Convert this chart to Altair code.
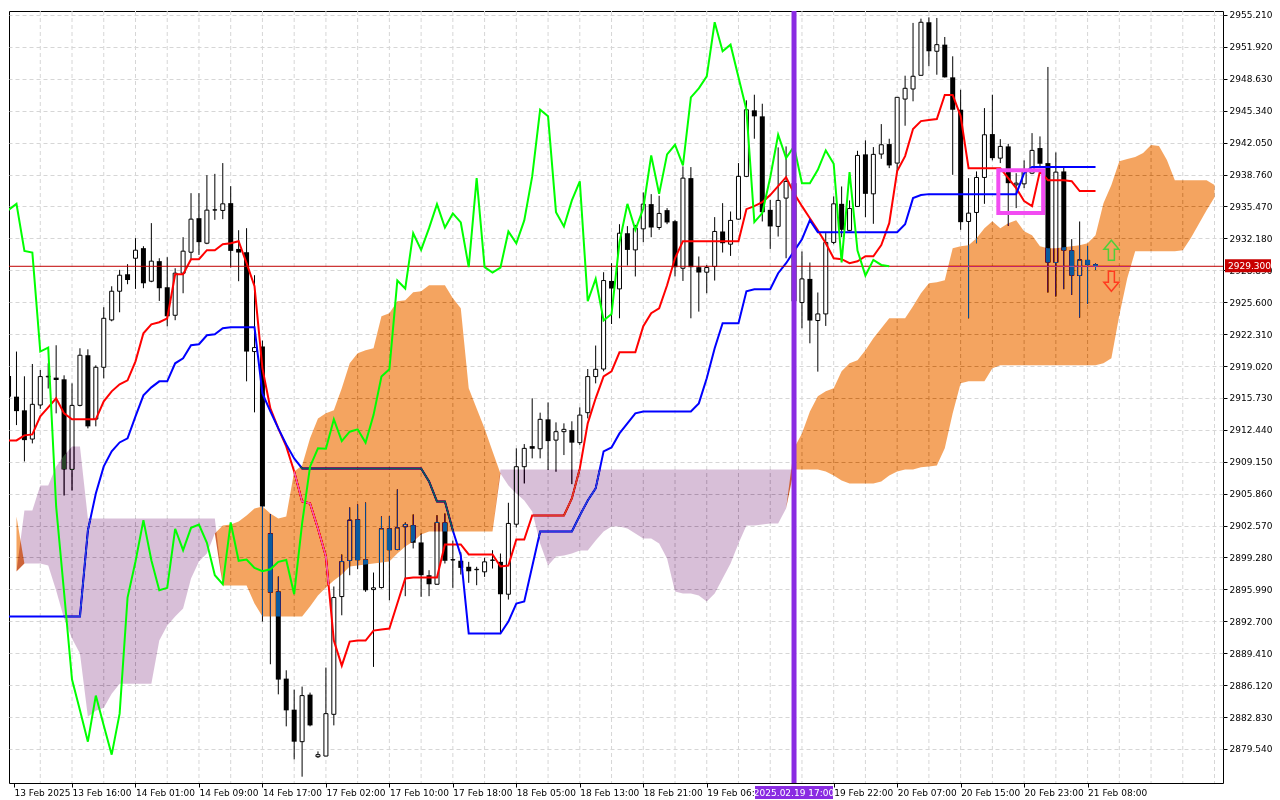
import json
import pandas as pd
import altair as alt

# ---------------- data ----------------
opens = [2917.99, 2915.86, 2914.45, 2911.49, 2915.00, 2917.90, 2917.82, 2917.65, 2908.36, 2914.96,
         2920.13, 2913.55, 2918.89, 2923.77, 2926.73, 2928.48, 2930.13, 2931.17, 2927.76, 2929.83,
         2927.14, 2924.25, 2928.59, 2930.75, 2934.26, 2931.68, 2935.10, 2935.06, 2935.81, 2931.09,
         2930.75, 2920.51, 2921.02, 2901.76, 2895.77, 2886.79, 2883.59, 2880.29, 2885.14, 2878.74,
         2878.81, 2883.11, 2895.25, 2898.97, 2903.20, 2899.07, 2895.97, 2896.18, 2902.27, 2900.10,
         2902.45, 2902.61, 2900.83, 2897.45, 2896.52, 2902.89, 2899.02, 2898.94, 2898.32, 2898.02,
         2897.80, 2898.98, 2898.83, 2895.49, 2902.71, 2908.64, 2910.76, 2910.49, 2913.52, 2911.38,
         2912.25, 2912.41, 2911.12, 2914.21, 2917.93, 2918.71, 2927.79, 2926.97, 2932.71, 2930.99,
         2933.16, 2935.71, 2933.30, 2935.09, 2933.95, 2929.10, 2938.39, 2929.21, 2928.69, 2929.28,
         2932.89, 2931.58, 2934.16, 2938.57, 2945.38, 2944.76, 2935.12, 2933.41, 2936.33, 2937.87,
         2925.56, 2928.00, 2923.71, 2924.39, 2931.76, 2935.74, 2933.00, 2935.47, 2940.84, 2936.77,
         2940.87, 2941.90, 2939.94, 2946.54, 2947.58, 2948.99, 2954.46, 2951.47, 2952.15, 2948.78,
         2945.44, 2933.92, 2934.85, 2938.46, 2942.93, 2940.45, 2941.66, 2937.70, 2937.80, 2938.90,
         2941.49, 2939.94, 2929.69, 2939.08, 2930.93, 2928.35, 2929.96, 2929.52]
highs = [2918.78, 2920.51, 2917.96, 2919.23, 2918.61, 2919.30, 2921.16, 2918.06, 2917.23, 2920.85,
         2920.74, 2919.09, 2925.08, 2927.24, 2928.93, 2929.52, 2932.20, 2931.37, 2933.75, 2930.13,
         2930.24, 2929.10, 2932.30, 2936.84, 2936.84, 2938.70, 2938.83, 2939.94, 2937.56, 2933.02,
         2933.23, 2928.38, 2921.64, 2903.75, 2897.32, 2887.65, 2885.66, 2885.97, 2885.35, 2879.29,
         2887.93, 2896.29, 2899.59, 2904.44, 2904.75, 2904.95, 2897.73, 2903.51, 2903.54, 2906.30,
         2902.89, 2903.72, 2901.76, 2897.97, 2903.64, 2903.82, 2901.03, 2899.82, 2898.83, 2898.32,
         2899.25, 2900.03, 2899.69, 2904.92, 2910.53, 2910.97, 2915.69, 2914.21, 2915.27, 2913.21,
         2913.11, 2913.32, 2914.76, 2918.71, 2921.13, 2928.69, 2929.62, 2933.64, 2933.44, 2933.57,
         2936.92, 2936.74, 2936.57, 2935.30, 2934.09, 2939.60, 2939.53, 2930.31, 2929.44, 2934.37,
         2935.81, 2934.95, 2939.94, 2946.41, 2946.99, 2946.06, 2936.15, 2941.56, 2941.66, 2938.39,
         2930.83, 2929.69, 2926.60, 2932.72, 2936.50, 2937.53, 2936.09, 2941.21, 2942.28, 2941.59,
         2943.96, 2942.45, 2946.75, 2948.95, 2954.39, 2954.83, 2954.97, 2954.90, 2952.94, 2950.95,
         2947.50, 2938.39, 2939.08, 2945.61, 2946.99, 2942.41, 2941.93, 2938.90, 2940.22, 2943.03,
         2942.69, 2949.85, 2941.04, 2939.60, 2932.10, 2933.92, 2931.40, 2929.62]
lows = [2915.17, 2912.93, 2909.18, 2911.04, 2914.60, 2916.70, 2914.14, 2905.67, 2906.19, 2914.86,
        2912.59, 2912.80, 2917.75, 2923.63, 2924.56, 2927.45, 2926.97, 2927.04, 2927.66, 2925.73,
        2923.12, 2923.74, 2926.52, 2929.93, 2930.47, 2931.58, 2934.09, 2934.16, 2929.17, 2927.76,
        2917.44, 2914.24, 2892.67, 2888.27, 2885.17, 2881.87, 2878.46, 2876.68, 2881.87, 2878.61,
        2878.79, 2881.97, 2893.32, 2897.45, 2898.07, 2895.74, 2888.00, 2896.08, 2894.87, 2900.03,
        2895.29, 2900.21, 2895.22, 2895.29, 2896.49, 2898.66, 2896.15, 2897.52, 2896.67, 2896.42,
        2897.28, 2898.14, 2891.44, 2894.94, 2902.37, 2906.91, 2909.50, 2909.50, 2908.29, 2908.12,
        2909.84, 2906.84, 2910.87, 2913.62, 2917.23, 2918.47, 2923.35, 2923.94, 2929.38, 2928.25,
        2931.79, 2932.30, 2933.06, 2933.64, 2928.25, 2927.79, 2923.94, 2924.63, 2926.52, 2927.83,
        2930.72, 2930.37, 2934.11, 2938.49, 2942.45, 2933.92, 2931.09, 2932.37, 2930.13, 2925.49,
        2922.91, 2921.36, 2918.44, 2923.15, 2931.58, 2932.30, 2932.92, 2935.45, 2934.37, 2933.68,
        2940.38, 2939.42, 2939.08, 2943.79, 2946.31, 2948.97, 2949.92, 2949.05, 2948.76, 2938.73,
        2933.06, 2923.94, 2931.68, 2935.74, 2940.22, 2939.94, 2933.47, 2935.30, 2937.36, 2938.80,
        2939.42, 2926.59, 2926.18, 2926.94, 2926.35, 2924.01, 2925.42, 2928.93]
closes = [2915.86, 2914.37, 2911.38, 2915.07, 2917.93, 2917.96, 2917.58, 2908.36, 2914.96, 2920.13,
          2912.80, 2918.89, 2923.94, 2926.73, 2928.38, 2927.89, 2930.96, 2927.55, 2929.83, 2927.04,
          2924.15, 2928.59, 2930.86, 2934.16, 2931.79, 2935.09, 2935.12, 2935.74, 2930.89, 2930.72,
          2920.51, 2920.92, 2904.54, 2895.67, 2886.69, 2883.52, 2880.29, 2885.04, 2881.97, 2878.95,
          2883.18, 2895.15, 2898.86, 2903.13, 2899.00, 2895.90, 2896.15, 2902.24, 2900.03, 2902.34,
          2902.68, 2900.80, 2897.45, 2896.52, 2902.89, 2898.94, 2899.06, 2898.21, 2897.86, 2898.06,
          2898.83, 2899.02, 2895.49, 2902.79, 2908.64, 2910.53, 2910.49, 2913.52, 2911.28, 2912.25,
          2912.49, 2911.12, 2913.96, 2917.93, 2918.68, 2927.83, 2927.01, 2932.71, 2930.99, 2933.23,
          2935.71, 2933.30, 2934.75, 2933.82, 2929.21, 2938.39, 2929.21, 2928.66, 2929.17, 2932.89,
          2931.68, 2934.03, 2938.57, 2945.44, 2944.76, 2934.88, 2933.41, 2936.09, 2938.05, 2925.70,
          2928.00, 2923.71, 2924.39, 2931.76, 2935.74, 2933.06, 2935.26, 2940.73, 2936.77, 2940.84,
          2941.83, 2939.70, 2946.72, 2947.65, 2948.89, 2954.46, 2951.47, 2952.15, 2948.78, 2945.44,
          2933.85, 2934.78, 2938.46, 2942.86, 2940.45, 2941.66, 2937.87, 2937.87, 2939.25, 2941.25,
          2939.87, 2929.69, 2939.01, 2930.93, 2928.35, 2929.96, 2929.44, 2929.30]

tenkan = [2911.35, 2911.35, 2911.87, 2911.97, 2913.83, 2914.76, 2915.69, 2914.14, 2913.52, 2913.52,
          2913.52, 2913.52, 2915.38, 2916.41, 2917.13, 2917.54, 2919.50, 2922.39, 2923.32, 2923.53,
          2923.94, 2928.48, 2928.48, 2930.03, 2930.03, 2930.96, 2930.96, 2931.58, 2931.68, 2931.89,
          2929.62, 2927.24, 2918.78, 2914.65, 2912.59, 2910.73, 2908.15, 2905.06, 2904.85, 2902.27,
          2899.38, 2890.71, 2888.13, 2890.61, 2890.71, 2890.71, 2891.74, 2891.85, 2891.95, 2894.53,
          2897.11, 2897.21, 2897.21, 2897.21, 2897.21, 2900.62, 2900.62, 2900.62, 2899.59, 2899.59,
          2899.59, 2899.59, 2898.35, 2898.45, 2901.13, 2901.13, 2903.61, 2903.61, 2903.61, 2903.61,
          2903.61, 2905.37, 2908.46, 2913.11, 2915.69, 2917.96, 2918.47, 2920.43, 2920.43, 2920.43,
          2923.12, 2924.46, 2924.97, 2927.35, 2930.13, 2931.89, 2931.89, 2931.89, 2931.89, 2931.89,
          2931.89, 2931.89, 2931.89, 2935.19, 2935.50, 2935.91, 2936.64, 2937.56, 2938.49, 2936.84,
          2935.50, 2934.26, 2933.02, 2931.68, 2930.13, 2930.03, 2929.62, 2929.82, 2930.34, 2930.34,
          2931.48, 2933.75, 2939.11, 2940.66, 2943.45, 2944.27, 2944.38, 2944.48, 2946.96, 2946.96,
          2944.79, 2939.42, 2939.42, 2939.42, 2939.42, 2939.42, 2938.39, 2937.36, 2936.02, 2935.50,
          2939.11, 2938.18, 2938.18, 2938.18, 2938.08, 2937.05, 2937.05, 2937.05]
kijun = [2893.19, 2893.19, 2893.19, 2893.19, 2893.19, 2893.19, 2893.19, 2893.19, 2893.19, 2893.19,
         2902.06, 2905.88, 2908.67, 2910.22, 2911.14, 2911.56, 2913.83, 2915.99, 2916.82, 2917.44,
         2917.44, 2919.30, 2919.81, 2921.16, 2921.26, 2922.19, 2922.29, 2922.91, 2923.01, 2923.01,
         2923.01, 2923.01, 2916.20, 2914.34, 2912.59, 2910.94, 2909.49, 2908.46, 2908.46, 2908.46,
         2908.46, 2908.46, 2908.46, 2908.46, 2908.46, 2908.46, 2908.46, 2908.46, 2908.46, 2908.46,
         2908.46, 2908.46, 2908.46, 2907.12, 2905.06, 2905.06, 2902.06, 2899.48, 2891.43, 2891.43,
         2891.43, 2891.43, 2891.43, 2892.67, 2894.53, 2894.74, 2898.35, 2901.96, 2901.96, 2901.96,
         2901.96, 2901.96, 2903.61, 2905.16, 2906.40, 2910.22, 2910.63, 2912.07, 2913.11, 2914.14,
         2914.34, 2914.34, 2914.34, 2914.34, 2914.34, 2914.34, 2914.34, 2915.17, 2917.75, 2920.85,
         2923.43, 2923.43, 2923.43, 2926.73, 2926.93, 2926.93, 2926.93, 2928.59, 2929.62, 2930.86,
         2932.09, 2934.06, 2932.82, 2932.82, 2932.82, 2932.82, 2932.82, 2932.82, 2932.82, 2932.82,
         2932.82, 2932.82, 2932.82, 2933.64, 2936.33, 2936.64, 2936.74, 2936.74, 2936.74, 2936.74,
         2936.74, 2936.74, 2936.74, 2936.74, 2936.74, 2936.74, 2936.74, 2936.74, 2938.90, 2939.53,
         2939.53, 2939.53, 2939.53, 2939.53, 2939.53, 2939.53, 2939.53, 2939.53]

# Senkou spans as drawn (already shifted 26 bars forward), bars 0..153
span_a = [2903.61, 2903.51, 2898.66, 2898.66, 2898.66, 2898.45, 2895.87, 2892.98, 2890.92, 2889.37,
          2882.87, 2883.49, 2883.80, 2885.24, 2886.27, 2886.27, 2886.27, 2886.27, 2886.27, 2890.71,
          2892.26, 2893.19, 2894.01, 2897.11, 2898.86, 2899.69, 2901.75, 2902.58, 2902.68, 2902.99,
          2903.61, 2904.33, 2904.54, 2903.82, 2903.30, 2903.51, 2908.15, 2908.77, 2911.56, 2913.62,
          2914.14, 2914.45, 2916.72, 2919.30, 2920.33, 2920.64, 2920.85, 2924.15, 2924.46, 2925.70,
          2925.80, 2926.63, 2926.73, 2927.35, 2927.35, 2927.35, 2926.01, 2924.97, 2916.72, 2914.65,
          2912.59, 2910.22, 2907.95, 2906.71, 2905.88, 2905.16, 2904.02, 2900.72, 2898.45, 2899.38,
          2899.48, 2899.69, 2900.00, 2900.00, 2901.03, 2901.96, 2902.48, 2902.48, 2902.27, 2901.75,
          2901.24, 2901.24, 2900.72, 2899.17, 2895.77, 2895.56, 2895.56, 2895.36, 2894.74, 2895.56,
          2897.11, 2898.66, 2900.72, 2902.58, 2902.58, 2902.68, 2902.79, 2902.79, 2904.33, 2910.53,
          2912.07, 2914.34, 2915.89, 2916.41, 2916.72, 2918.47, 2919.30, 2919.61, 2920.64, 2921.88,
          2922.91, 2923.94, 2923.94, 2923.94, 2925.18, 2926.52, 2927.55, 2927.66, 2927.86, 2931.17,
          2931.37, 2931.48, 2932.20, 2933.23, 2933.95, 2933.23, 2933.75, 2934.06, 2932.92, 2932.51,
          2931.37, 2931.17, 2931.17, 2931.27, 2931.37, 2931.48, 2931.68, 2932.51, 2935.81, 2937.67,
          2940.14, 2940.35, 2940.56, 2940.97, 2941.80, 2941.69, 2940.25, 2938.18, 2938.18, 2938.18,
          2938.18, 2938.18, 2937.67, 2937.36]
span_b = [2897.63, 2897.83, 2904.13, 2904.13, 2906.71, 2906.71, 2908.67, 2909.80, 2910.73, 2910.73,
          2903.30, 2903.30, 2903.30, 2903.30, 2903.30, 2903.30, 2903.30, 2903.30, 2903.30, 2903.30,
          2903.30, 2903.30, 2903.30, 2903.30, 2903.30, 2903.30, 2903.30, 2896.39, 2896.39, 2896.39,
          2896.39, 2894.53, 2893.19, 2893.19, 2893.19, 2893.19, 2893.19, 2893.19, 2894.22, 2895.36,
          2896.18, 2896.90, 2897.52, 2898.35, 2898.45, 2898.55, 2898.66, 2898.76, 2898.86, 2899.69,
          2900.41, 2900.93, 2901.65, 2901.96, 2901.96, 2901.96, 2901.96, 2901.96, 2901.96, 2901.96,
          2901.96, 2901.96, 2908.36, 2908.36, 2908.36, 2908.36, 2908.36, 2908.36, 2908.36, 2908.36,
          2908.36, 2908.36, 2908.36, 2908.36, 2908.36, 2908.36, 2908.36, 2908.36, 2908.36, 2908.36,
          2908.36, 2908.36, 2908.36, 2908.36, 2908.36, 2908.36, 2908.36, 2908.36, 2908.36, 2908.36,
          2908.36, 2908.36, 2908.36, 2908.36, 2908.36, 2908.36, 2908.36, 2908.36, 2908.36, 2908.36,
          2908.36, 2908.36, 2908.36, 2908.15, 2907.74, 2907.22, 2906.91, 2906.91, 2906.91, 2906.91,
          2907.12, 2907.74, 2908.15, 2908.36, 2908.36, 2908.57, 2908.67, 2908.77, 2910.53, 2914.14,
          2917.23, 2917.44, 2917.44, 2917.44, 2918.78, 2919.09, 2919.09, 2919.09, 2919.09, 2919.09,
          2919.09, 2919.09, 2919.09, 2919.09, 2919.09, 2919.09, 2919.09, 2919.09, 2919.30, 2919.81,
          2924.25, 2928.07, 2930.86, 2930.86, 2930.86, 2930.86, 2930.86, 2930.86, 2930.96, 2932.20,
          2933.64, 2935.09, 2936.43, 2937.05]

# time-axis labels shown in the picture (bar index -> label); the 19 Feb 14:00 one is hidden
# behind the vertical line's date box in the reference, so it is left out
x_tick_bars = [0, 8, 16, 24, 32, 40, 48, 56, 64, 72, 80, 88, 104, 112, 120, 128, 136]
x_labels = ["13 Feb 2025", "13 Feb 16:00", "14 Feb 01:00", "14 Feb 09:00", "14 Feb 17:00",
            "17 Feb 02:00", "17 Feb 10:00", "17 Feb 18:00", "18 Feb 05:00", "18 Feb 13:00",
            "18 Feb 21:00", "19 Feb 06:00", "19 Feb 22:00", "20 Feb 07:00",
            "20 Feb 15:00", "20 Feb 23:00", "21 Feb 08:00"]
y_ticks = [2879.54, 2882.83, 2886.12, 2889.41, 2892.70, 2895.99, 2899.28, 2902.57, 2905.86,
           2909.15, 2912.44, 2915.73, 2919.02, 2922.31, 2925.60, 2928.89, 2932.18, 2935.47,
           2938.76, 2942.05, 2945.34, 2948.63, 2951.92, 2955.21]

bid_price = [2929.30]
bid_text = ["2929.300"]
vline_bar = [99]
vline_text = ["2025.02.19 17:00"]
box_bars = [124.75, 130.4]
box_prices = [2934.8, 2939.2]
arrow_bar = [139]
arrow_up_price = [2930.96]
arrow_down_price = [2927.76]

# ---------------- tables ----------------
n = len(closes)
candles = pd.DataFrame({"i": list(range(n)), "o": opens, "h": highs, "l": lows, "c": closes})
bull = candles[candles["c"] >= candles["o"]]
bear = candles[candles["c"] < candles["o"]]
lines = pd.DataFrame({"i": list(range(n)), "tenkan": tenkan, "kijun": kijun})
chikou = pd.DataFrame({"i": list(range(n - 26)), "v": closes[26:]})
cloud = pd.DataFrame({"i": list(range(len(span_a))), "a": span_a, "b": span_b})
cloud["lo"] = cloud[["a", "b"]].min(axis=1)
# only the bars that fall inside the plot (the blended cloud is not clipped)
cloud = cloud[(cloud["i"] >= 1) & (cloud["i"] <= 152)]
grid_x = pd.DataFrame({"g": list(range(4, 153, 4))})
bid = pd.DataFrame({"p": bid_price, "t": bid_text})
vline = pd.DataFrame({"v": vline_bar, "t": vline_text})
box = pd.DataFrame({"x1": [box_bars[0]], "x2": [box_bars[1]], "y1": [box_prices[0]], "y2": [box_prices[1]]})
arr_up = pd.DataFrame({"i": arrow_bar, "p": arrow_up_price})
arr_dn = pd.DataFrame({"i": arrow_bar, "p": arrow_down_price})

# ---------------- scales / axes ----------------
W, H = 1214, 772
FONT = "DejaVu Sans"
X0 = 0.6875
xs = alt.Scale(domain=[X0, 152.4375], nice=False, zero=False)
ys = alt.Scale(domain=[2876.03, 2955.62], nice=False, zero=False)
tick_vals = [max(b, X0) for b in x_tick_bars]
label_map = {str(v): lab for v, lab in zip(tick_vals, x_labels)}
x_axis = alt.Axis(values=tick_vals,
                  labelExpr=json.dumps(label_map) + "[toString(datum.value)]",
                  title=None, grid=False, domain=False, tickSize=4, tickColor="black",
                  labelAlign="left", labelBaseline="top", labelPadding=1, labelFont=FONT,
                  labelFontSize=9, labelColor="black", labelOverlap=False, labelFlush=False,
                  labelBound=False)
y_axis = alt.Axis(values=y_ticks, format=".3f", orient="right", title=None, grid=True,
                  gridColor="#d6d6d6", gridDash=[4, 3], gridWidth=1, domain=False, tickSize=4,
                  tickColor="black", labelAlign="left", labelBaseline="middle", labelPadding=2,
                  labelFont=FONT, labelFontSize=9, labelColor="black", labelOverlap=False,
                  labelFlush=False, labelBound=False)


def X(f):
    return alt.X(f + ":Q", scale=xs, axis=x_axis)


def Y(f):
    return alt.Y(f + ":Q", scale=ys, axis=y_axis)


vgrid = alt.Chart(grid_x).mark_rule(color="#d6d6d6", strokeWidth=1, strokeDash=[4, 3]).encode(x=X("g"))
wicks = alt.Chart(candles).mark_rule(color="black", strokeWidth=1, clip=True).encode(
    x=X("i"), y=Y("l"), y2=alt.Y2("h"))
bear_bodies = alt.Chart(bear).mark_bar(size=5, color="black", clip=True).encode(
    x=X("i"), y=Y("o"), y2=alt.Y2("c"))
bull_bodies = alt.Chart(bull).mark_bar(size=4, fill="white", stroke="black", strokeWidth=1,
                                       clip=True).encode(x=X("i"), y=Y("o"), y2=alt.Y2("c"))
tenkan_line = alt.Chart(lines).mark_line(color="#ff0000", strokeWidth=2, clip=True).encode(
    x=X("i"), y=Y("tenkan"))
kijun_line = alt.Chart(lines).mark_line(color="#0000ff", strokeWidth=2, clip=True).encode(
    x=X("i"), y=Y("kijun"))
bid_line = alt.Chart(bid).mark_rule(color="#c00000", strokeWidth=1).encode(y=Y("p"))
cloud_up = alt.Chart(cloud).mark_area(color="#0b5b9f", blend="difference",
                                      orient="vertical", interpolate="linear").encode(
    x=X("i"), y=Y("a"), y2=alt.Y2("lo"))
cloud_dn = alt.Chart(cloud).mark_area(color="#274027", blend="difference",
                                      orient="vertical", interpolate="linear").encode(
    x=X("i"), y=Y("b"), y2=alt.Y2("lo"))
chikou_line = alt.Chart(chikou).mark_line(color="#00ff00", strokeWidth=2, clip=True).encode(
    x=X("i"), y=Y("v"))
vline_rule = alt.Chart(vline).mark_rule(color="#8a2be2", strokeWidth=5).encode(x=X("v"))
pink_box = alt.Chart(box).mark_rect(filled=False, stroke="#f24cf2", strokeWidth=4).encode(
    x=X("x1"), x2=alt.X2("x2"), y=Y("y1"), y2=alt.Y2("y2"))
UP = "M0,-1 L0.75,-0.1 L0.3,-0.1 L0.3,1 L-0.3,1 L-0.3,-0.1 L-0.75,-0.1 Z"
DN = "M0,1 L0.75,0.1 L0.3,0.1 L0.3,-1 L-0.3,-1 L-0.3,0.1 L-0.75,0.1 Z"
up_arrow = alt.Chart(arr_up).mark_point(shape=UP, size=400, filled=False, color="#4fcf3a",
                                        strokeWidth=1.5, opacity=1).encode(x=X("i"), y=Y("p"))
dn_arrow = alt.Chart(arr_dn).mark_point(shape=DN, size=400, filled=False, color="#ff3b1f",
                                        strokeWidth=1.5, opacity=1).encode(x=X("i"), y=Y("p"))
bid_box = alt.Chart(bid).mark_rect(color="#c80000", yOffset=-7, y2Offset=6).encode(
    x=alt.value(W + 2), x2=alt.value(W + 48), y=Y("p"), y2=alt.Y2("p"))
bid_label = alt.Chart(bid).mark_text(color="white", align="left", baseline="middle", font=FONT,
                                     fontSize=9).encode(x=alt.value(W + 5), y=Y("p"), text="t:N")
v_box = alt.Chart(vline).mark_rect(color="#8a2be2", xOffset=-39, x2Offset=39).encode(
    x=X("v"), x2=alt.X2("v"), y=alt.value(H + 3), y2=alt.value(H + 16))
v_label = alt.Chart(vline).mark_text(color="white", align="center", baseline="middle", font=FONT,
                                     fontSize=9).encode(x=X("v"), y=alt.value(H + 10), text="t:N")

chart = alt.layer(
    vgrid, wicks, bear_bodies, bull_bodies, tenkan_line, kijun_line, bid_line,
    cloud_up, cloud_dn, chikou_line, vline_rule, pink_box, up_arrow, dn_arrow,
    bid_box, bid_label, v_box, v_label
).properties(
    width=W, height=H, padding={"left": 0, "top": 0, "right": 0, "bottom": 0}, background="white"
).configure_view(stroke="black", strokeWidth=1)

chart.save("out.html", embed_options={"renderer": "svg", "actions": False})
